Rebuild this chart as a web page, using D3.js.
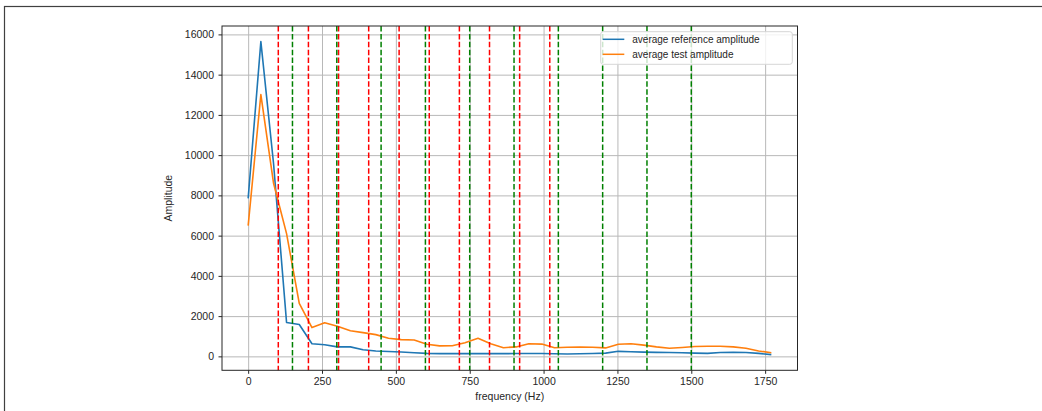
<!DOCTYPE html>
<html>
<head>
<meta charset="utf-8">
<script src="https://cdn.jsdelivr.net/npm/d3@7"></script>
<style>
  body { margin: 0; background: #fff; }
  .chart text { font-family: "Liberation Sans", Arial, sans-serif; fill: #262626; }
  .axis .domain { display: none; }
  .axis line { stroke: #262626; }
  .grid line { stroke: #b8b8b8; stroke-width: 1; }
  .grid .domain { display: none; }
</style>
</head>
<body>
<div class="chart"></div>
<script>
// frequency bins (Hz)
var freqs = [0, 43, 86, 130, 173, 216, 259, 302, 346, 389, 432, 475, 518, 562, 605, 648,
  691, 734, 778, 821, 864, 907, 950, 994, 1037, 1080, 1123, 1166, 1210, 1253, 1296,
  1339, 1382, 1426, 1469, 1512, 1555, 1598, 1642, 1685, 1728, 1771];

var refAmp = [7850, 15640, 9570, 1680, 1580, 630, 580, 470, 470, 330, 270, 240, 220, 180,
  150, 135, 135, 135, 135, 135, 135, 140, 145, 140, 130, 120, 130, 140, 160, 250, 230,
  210, 200, 190, 180, 160, 150, 190, 200, 190, 150, 85];

var testAmp = [6500, 13012, 8600, 6100, 2630, 1430, 1670, 1500, 1270, 1180, 1080, 900, 830,
  810, 600, 520, 530, 680, 900, 630, 430, 470, 630, 610, 430, 450, 460, 450, 420, 600,
  630, 560, 470, 400, 440, 490, 500, 500, 470, 400, 270, 180];

var redLines = [102, 204, 306, 408, 511, 613, 715, 817, 919, 1021];
var greenLines = [150, 300, 450, 600, 750, 900, 1050, 1200, 1350, 1500];

var xTicks = [0, 250, 500, 750, 1000, 1250, 1500, 1750];
var yTicks = [0, 2000, 4000, 6000, 8000, 10000, 12000, 14000, 16000];

var seriesNames = ["average reference amplitude", "average test amplitude"];
var seriesColors = ["#1f77b4", "#ff7f0e"];

function getDomain(values) {
  var lo = d3.min(values), hi = d3.max(values);
  var pad = (hi - lo) * 0.05;
  return [lo - pad, hi + pad];
}

function getChartOptions() {
  var chart = {};
  chart.margin = { top: 26, left: 222 };
  chart.width = 575.5;
  chart.height = 344.3;
  chart.xScale = d3.scaleLinear()
    .domain(getDomain(freqs))
    .range([0, chart.width]);
  chart.yScale = d3.scaleLinear()
    .domain(getDomain(refAmp.concat(testAmp)))
    .range([chart.height, 0]);
  chart.xAxis = d3.axisBottom(chart.xScale).tickValues(xTicks)
    .tickFormat(d3.format("d")).tickSize(3.5).tickPadding(3.5);
  chart.yAxis = d3.axisLeft(chart.yScale).tickValues(yTicks)
    .tickFormat(d3.format("d")).tickSize(3.5).tickPadding(4.5);
  chart.series = [refAmp, testAmp];
  chart.line = function(vals) {
    return d3.line()
      .x((d, i) => chart.xScale(freqs[i]))
      .y(d => chart.yScale(d))(vals);
  };
  return chart;
}

function drawChart(chart) {
  var root = d3.select(".chart").append("svg")
    .attr("width", 1042)
    .attr("height", 411);

  // outer frame of the figure
  root.append("rect")
    .attr("x", 4.5).attr("y", 6.5)
    .attr("width", 1060).attr("height", 420)
    .attr("fill", "none")
    .attr("stroke", "#404040")
    .attr("stroke-width", 1.2);

  var svg = root.append("g")
    .attr("transform", `translate(${chart.margin.left}, ${chart.margin.top})`);

  svg.append("g")
    .attr("class", "grid")
    .attr("transform", `translate(0, ${chart.height})`)
    .call(d3.axisBottom(chart.xScale).tickValues(xTicks).tickSize(-chart.height).tickFormat(""));

  svg.append("g")
    .attr("class", "grid")
    .call(d3.axisLeft(chart.yScale).tickValues(yTicks).tickSize(-chart.width).tickFormat(""));

  chart.series.forEach(function(vals, i) {
    svg.append("path")
      .attr("d", chart.line(vals))
      .attr("fill", "none")
      .attr("stroke", seriesColors[i])
      .attr("stroke-width", 1.6)
      .attr("stroke-linejoin", "round");
  });

  svg.selectAll(".vred")
    .data(redLines)
    .enter().append("line")
    .attr("class", "vred")
    .attr("x1", d => chart.xScale(d)).attr("x2", d => chart.xScale(d))
    .attr("y1", 0).attr("y2", chart.height)
    .attr("stroke", "#ff0000")
    .attr("stroke-width", 1.5)
    .attr("stroke-dasharray", "5.5,2.4");

  svg.selectAll(".vgreen")
    .data(greenLines)
    .enter().append("line")
    .attr("class", "vgreen")
    .attr("x1", d => chart.xScale(d)).attr("x2", d => chart.xScale(d))
    .attr("y1", 0).attr("y2", chart.height)
    .attr("stroke", "#008000")
    .attr("stroke-width", 1.5)
    .attr("stroke-dasharray", "5.5,2.4");

  svg.append("g")
    .attr("class", "x axis")
    .attr("transform", `translate(0, ${chart.height})`)
    .call(chart.xAxis)
    .selectAll("text").style("font-size", "10.5px");

  svg.append("g")
    .attr("class", "y axis")
    .call(chart.yAxis)
    .selectAll("text").style("font-size", "10.5px");

  svg.append("rect")
    .attr("width", chart.width)
    .attr("height", chart.height)
    .attr("fill", "none")
    .attr("stroke", "#262626")
    .attr("stroke-width", 1);

  svg.append("text")
    .attr("x", chart.width / 2)
    .attr("y", chart.height + 30)
    .attr("text-anchor", "middle")
    .style("font-size", "10.5px")
    .text("frequency (Hz)");

  svg.append("text")
    .attr("transform", `translate(${-50}, ${chart.height / 2}) rotate(-90)`)
    .attr("text-anchor", "middle")
    .style("font-size", "10.5px")
    .text("Amplitude");

  // legend
  var legend = svg.append("g")
    .attr("transform", `translate(${600.7 - chart.margin.left}, ${31.7 - chart.margin.top})`);
  legend.append("rect")
    .attr("width", 191.6).attr("height", 32.6)
    .attr("rx", 2.5)
    .attr("fill", "#fff").attr("fill-opacity", 0.8)
    .attr("stroke", "#d6d6d6").attr("stroke-width", 1);
  seriesNames.forEach(function(name, i) {
    var yy = 7.6 + i * 15;
    legend.append("line")
      .attr("x1", 2).attr("x2", 23.6)
      .attr("y1", yy).attr("y2", yy)
      .attr("stroke", seriesColors[i]).attr("stroke-width", 1.5);
    legend.append("text")
      .attr("x", 31.6).attr("y", yy)
      .attr("dy", "0.35em")
      .style("font-size", "10px")
      .text(name);
  });
}

drawChart(getChartOptions());
</script>
</body>
</html>
